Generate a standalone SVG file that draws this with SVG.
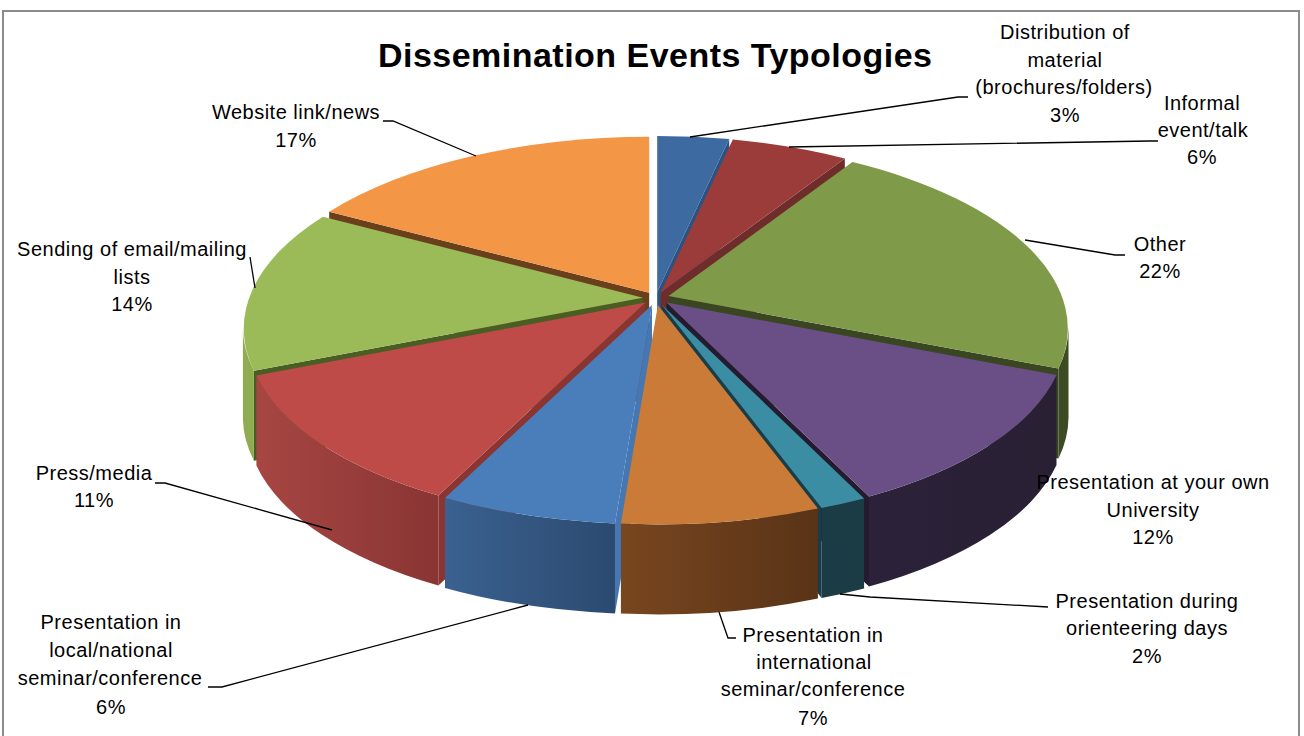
<svg xmlns="http://www.w3.org/2000/svg" width="1304" height="736" viewBox="0 0 1304 736">
<defs>
<style>
.lbl{font-family:"Liberation Sans","Open Sans",sans-serif;font-size:20px;letter-spacing:0.5px;fill:#000;text-anchor:middle}
.title{font-family:"Liberation Sans","Open Sans",sans-serif;font-size:34px;font-weight:bold;fill:#000;text-anchor:middle}
.ld{fill:none;stroke:#000;stroke-width:1.3}
</style>
<linearGradient id="gN" gradientUnits="userSpaceOnUse" x1="621" y1="0" x2="818" y2="0"><stop offset="0" stop-color="#78461f"/><stop offset="1" stop-color="#593317"/></linearGradient>
<linearGradient id="gL" gradientUnits="userSpaceOnUse" x1="445" y1="0" x2="615" y2="0"><stop offset="0" stop-color="#3a6190"/><stop offset="1" stop-color="#2c4a70"/></linearGradient>
<linearGradient id="gP" gradientUnits="userSpaceOnUse" x1="256" y1="0" x2="438" y2="0"><stop offset="0" stop-color="#a74643"/><stop offset="1" stop-color="#893533"/></linearGradient>
<linearGradient id="gU" gradientUnits="userSpaceOnUse" x1="869" y1="0" x2="1057" y2="0"><stop offset="0" stop-color="#2b2139"/><stop offset="1" stop-color="#2a2034"/></linearGradient>
</defs>
<rect x="3" y="11" width="1296" height="740" fill="#fff" stroke="#8c8c8c" stroke-width="2"/>
<text class="title" x="655" y="67" textLength="554">Dissemination Events Typologies</text>

<g id="slice-distribution">
<path d="M657.2,292 L729.2,139 L729.2,229 L657.2,382 Z" fill="#2d5281"/>
<path d="M657.2,292 L657.2,136 A400,187.5 0 0 1 729.2,139 Z" fill="#3d6aa1"/>
</g>
<g id="slice-informal">
<path d="M660.8,292.4 L844.8,158.4 L844.8,248.4 L660.8,382.4 Z" fill="#6e2c2b"/>
<path d="M660.8,292.4 L732.8,139.4 A400,187.5 0 0 1 844.8,158.4 Z" fill="#9b3c3a"/>
</g>
<g id="slice-other">
<path d="M668.5,296.1 L1058.5,368.6 L1058.5,458.6 L668.5,386.1 Z" fill="#3a4621"/>
<path d="M1068.5,327.6 A400,187.5 0 0 1 1058.5,368.6 L1058.5,458.6 A400,187.5 0 0 0 1068.5,417.6 Z" fill="#3c4b22"/>
<path d="M668.5,296.1 L852.5,162.1 A400,187.5 0 0 1 1058.5,368.6 Z" fill="#7f9a48"/>
</g>
<g id="slice-university">
<path d="M666.5,302.6 L869,496.6 L869,586.6 L666.5,392.6 Z" fill="#241b30"/>
<path d="M1056.5,375.1 A400,187.5 0 0 1 869,496.6 L869,586.6 A400,187.5 0 0 0 1056.5,465.1 Z" fill="url(#gU)"/>
<path d="M666.5,302.6 L1056.5,375.1 A400,187.5 0 0 1 869,496.6 Z" fill="#6a4f86"/>
</g>
<g id="slice-orienteering">
<path d="M661.6,304.5 L821.6,508 L821.6,598 L661.6,394.5 Z" fill="#183d46"/>
<path d="M864.1,498.5 A400,187.5 0 0 1 821.6,508 L821.6,598 A400,187.5 0 0 0 864.1,588.5 Z" fill="#1b3c45"/>
<path d="M661.6,304.5 L864.1,498.5 A400,187.5 0 0 1 821.6,508 Z" fill="#3b8da3"/>
</g>
<g id="slice-website">
<path d="M649.2,292.8 L329.2,211.8 L329.2,301.8 L649.2,382.8 Z" fill="#6a401c"/>
<path d="M649.2,292.8 L329.2,211.8 A400,187.5 0 0 1 649.2,136.8 Z" fill="#f39646"/>
</g>
<g id="slice-email">
<path d="M642.9,297.7 L253.9,370.7 L253.9,460.7 L642.9,387.7 Z" fill="#4a5e24"/>
<path d="M253.9,370.7 A400,187.5 0 0 1 242.9,329.2 L242.9,419.2 A400,187.5 0 0 0 253.9,460.7 Z" fill="#8fac52"/>
<path d="M642.9,297.7 L253.9,370.7 A400,187.5 0 0 1 322.9,216.7 Z" fill="#9bbb59"/>
</g>
<g id="slice-press">
<path d="M645.4,302.6 L438.4,495.6 L438.4,585.6 L645.4,392.6 Z" fill="#8a3532"/>
<path d="M438.4,495.6 A400,187.5 0 0 1 256.4,375.6 L256.4,465.6 A400,187.5 0 0 0 438.4,585.6 Z" fill="url(#gP)"/>
<path d="M645.4,302.6 L438.4,495.6 A400,187.5 0 0 1 256.4,375.6 Z" fill="#be4b48"/>
</g>
<g id="slice-local">
<path d="M652,304.9 L615,523.4 L615,613.4 L652,394.9 Z" fill="#4577b3"/>
<path d="M615,523.4 A400,187.5 0 0 1 445,497.9 L445,587.9 A400,187.5 0 0 0 615,613.4 Z" fill="url(#gL)"/>
<path d="M652,304.9 L615,523.4 A400,187.5 0 0 1 445,497.9 Z" fill="#4a7ebb"/>
</g>
<g id="slice-international">
<path d="M817.9,508.6 A400,187.5 0 0 1 620.9,523.6 L620.9,613.6 A400,187.5 0 0 0 817.9,598.6 Z" fill="url(#gN)"/>
<path d="M657.9,305.1 L817.9,508.6 A400,187.5 0 0 1 620.9,523.6 Z" fill="#c97b37"/>
</g>

<g id="connectors">
<polyline class="ld" points="690,137 958,97 968,97"/>
<polyline class="ld" points="789,147 1150,141 1158,141"/>
<polyline class="ld" points="1025,240 1115,255 1125,255"/>
<polyline class="ld" points="840,594 870,597 1048,607"/>
<polyline class="ld" points="719,612 728,638 736,638"/>
<polyline class="ld" points="528,605 222,687 208,687"/>
<polyline class="ld" points="332,530 165,483 155,483"/>
<polyline class="ld" points="255,288 250,257"/>
<polyline class="ld" points="476,156 393,121 383,121"/>
</g>

<g id="label-distribution"><text class="lbl" x="1065" y="39">Distribution of</text><text class="lbl" x="1065" y="66.5">material</text><text class="lbl" x="1064" y="94">(brochures/folders)</text><text class="lbl" x="1065" y="121.5">3%</text></g>
<g id="label-informal"><text class="lbl" x="1202" y="110">Informal</text><text class="lbl" x="1203" y="137">event/talk</text><text class="lbl" x="1202" y="164">6%</text></g>
<g id="label-other"><text class="lbl" x="1160" y="251">Other</text><text class="lbl" x="1160" y="278">22%</text></g>
<g id="label-university"><text class="lbl" x="1153" y="489">Presentation at your own</text><text class="lbl" x="1153" y="517">University</text><text class="lbl" x="1153" y="544">12%</text></g>
<g id="label-orienteering"><text class="lbl" x="1147" y="608">Presentation during</text><text class="lbl" x="1147" y="635">orienteering days</text><text class="lbl" x="1147" y="663">2%</text></g>
<g id="label-international"><text class="lbl" x="813" y="642">Presentation in</text><text class="lbl" x="814" y="669">international</text><text class="lbl" x="813" y="696">seminar/conference</text><text class="lbl" x="813" y="725">7%</text></g>
<g id="label-local"><text class="lbl" x="111" y="629">Presentation in</text><text class="lbl" x="111" y="657">local/national</text><text class="lbl" x="110" y="685">seminar/conference</text><text class="lbl" x="111" y="714">6%</text></g>
<g id="label-press"><text class="lbl" x="94" y="480">Press/media</text><text class="lbl" x="94" y="507">11%</text></g>
<g id="label-email"><text class="lbl" x="132" y="256">Sending of email/mailing</text><text class="lbl" x="132" y="284">lists</text><text class="lbl" x="132" y="311">14%</text></g>
<g id="label-website"><text class="lbl" x="296" y="119">Website link/news</text><text class="lbl" x="296" y="147">17%</text></g>
</svg>
